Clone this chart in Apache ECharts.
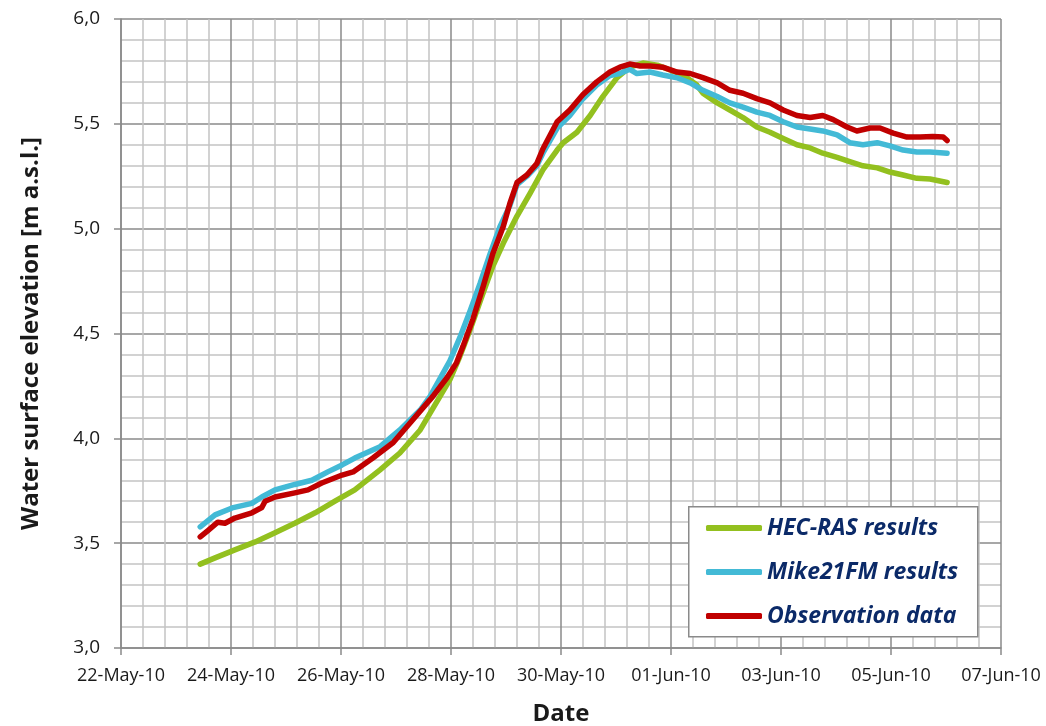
<!DOCTYPE html>
<html>
<head>
<meta charset="utf-8">
<title>Water surface elevation</title>
<script src="https://cdn.jsdelivr.net/npm/echarts@6/dist/echarts.min.js"></script>
<style>
  html, body { margin: 0; padding: 0; background: #ffffff; }
  #chart { width: 1046px; height: 726px; }
</style>
</head>
<body>
<div id="chart"></div>
<script>
// Time is given in days counted from 22-May-2010 00:00.
const dateTickLabels = ['22-May-10', '24-May-10', '26-May-10', '28-May-10', '30-May-10',
                        '01-Jun-10', '03-Jun-10', '05-Jun-10', '07-Jun-10'];

const seriesNames = ['HEC-RAS results', 'Mike21FM results', 'Observation data'];

// HEC-RAS simulated water level [m a.s.l.]
const hecRas = [
  [1.44, 3.40], [1.71, 3.43], [2.07, 3.468], [2.44, 3.506], [2.80, 3.55], [3.16, 3.595],
  [3.53, 3.645], [3.89, 3.70], [4.25, 3.754], [4.71, 3.85], [5.07, 3.93], [5.44, 4.04],
  [5.62, 4.12], [5.80, 4.20], [5.98, 4.28], [6.16, 4.39], [6.35, 4.52], [6.58, 4.69],
  [6.76, 4.82], [6.95, 4.93], [7.20, 5.06], [7.44, 5.17], [7.67, 5.28],
  [7.93, 5.375], [8.04, 5.41], [8.29, 5.46], [8.53, 5.54], [8.76, 5.63], [9.02, 5.72],
  [9.25, 5.77], [9.49, 5.79], [9.75, 5.78], [9.98, 5.757], [10.22, 5.733], [10.47, 5.685],
  [10.58, 5.646], [10.84, 5.60], [11.07, 5.566], [11.31, 5.53], [11.56, 5.485], [11.80, 5.46],
  [12.04, 5.43], [12.29, 5.40], [12.53, 5.385], [12.76, 5.36], [13.02, 5.34], [13.25, 5.32],
  [13.49, 5.30], [13.75, 5.29], [13.98, 5.27], [14.22, 5.256], [14.47, 5.24], [14.71, 5.237],
  [15.02, 5.22]
];

// Mike21FM simulated water level [m a.s.l.]
const mike21fm = [
  [1.44, 3.578], [1.71, 3.635], [2.02, 3.668], [2.38, 3.69], [2.56, 3.72], [2.80, 3.754],
  [3.16, 3.78], [3.47, 3.80], [3.76, 3.84], [4.02, 3.873], [4.25, 3.906], [4.71, 3.96],
  [5.07, 4.04], [5.44, 4.135], [5.62, 4.20], [5.80, 4.285], [5.98, 4.37], [6.16, 4.48],
  [6.35, 4.61], [6.53, 4.74], [6.71, 4.88], [6.89, 5.01], [7.07, 5.11], [7.20, 5.21],
  [7.38, 5.25], [7.56, 5.30], [7.67, 5.36], [7.93, 5.48], [8.16, 5.54], [8.40, 5.62],
  [8.65, 5.685], [8.89, 5.73], [9.07, 5.74], [9.25, 5.76], [9.38, 5.74], [9.62, 5.747],
  [9.85, 5.733], [10.11, 5.72], [10.35, 5.695], [10.58, 5.66], [10.84, 5.63], [11.07, 5.60],
  [11.31, 5.58], [11.56, 5.556], [11.80, 5.54], [12.04, 5.51], [12.29, 5.485], [12.53, 5.475],
  [12.76, 5.466], [13.02, 5.447], [13.25, 5.41], [13.49, 5.40], [13.75, 5.41], [13.98, 5.395],
  [14.22, 5.375], [14.47, 5.366], [14.71, 5.366], [15.02, 5.36]
];

// Observed water level [m a.s.l.]
const observed = [
  [1.44, 3.53], [1.58, 3.56], [1.76, 3.60], [1.89, 3.595], [2.07, 3.62], [2.38, 3.645],
  [2.56, 3.67], [2.62, 3.70], [2.80, 3.72], [3.16, 3.74], [3.40, 3.754], [3.65, 3.787],
  [4.02, 3.825], [4.22, 3.84], [4.58, 3.906], [4.95, 3.98], [5.31, 4.09], [5.67, 4.20],
  [5.93, 4.29], [6.10, 4.36], [6.22, 4.44], [6.40, 4.57], [6.58, 4.72], [6.76, 4.88],
  [6.95, 5.01], [7.07, 5.12], [7.20, 5.22], [7.38, 5.256], [7.56, 5.31], [7.67, 5.38],
  [7.93, 5.51], [8.16, 5.566], [8.40, 5.64], [8.65, 5.70], [8.89, 5.747], [9.07, 5.77],
  [9.25, 5.785], [9.44, 5.776], [9.62, 5.776], [9.85, 5.77], [10.11, 5.747], [10.35, 5.74],
  [10.58, 5.72], [10.84, 5.695], [11.07, 5.66], [11.31, 5.646], [11.56, 5.62], [11.80, 5.60],
  [12.04, 5.566], [12.29, 5.54], [12.53, 5.53], [12.76, 5.54], [12.95, 5.52], [13.20, 5.485],
  [13.38, 5.466], [13.62, 5.48], [13.80, 5.48], [14.04, 5.456], [14.29, 5.437], [14.53, 5.437],
  [14.76, 5.44], [14.95, 5.437], [15.02, 5.42]
];

const seriesColors = ['#93c01f', '#43bad6', '#c00000'];
const FONT = '"Open Sans", "Noto Sans", sans-serif';

const chart = echarts.init(document.getElementById('chart'), null, { renderer: 'canvas' });

const lineSeries = [hecRas, mike21fm, observed].map((data, i) => ({
  name: seriesNames[i],
  type: 'line',
  data: data,
  showSymbol: false,
  symbol: 'none',
  smooth: false,
  z: 2 + i,
  lineStyle: { color: seriesColors[i], width: 5.5, cap: 'round', join: 'round' },
  itemStyle: { color: seriesColors[i] }
}));

chart.setOption({
  animation: false,
  backgroundColor: '#ffffff',
  grid: { left: 121, right: 45, top: 19, bottom: 78, containLabel: false, outerBoundsMode: 'none' },
  xAxis: {
    type: 'value',
    min: 0,
    max: 16,
    interval: 2,
    name: 'Date',
    nameLocation: 'middle',
    nameGap: 54,
    nameTextStyle: { fontFamily: FONT, fontWeight: 'bold', fontSize: 24, color: '#1a1a1a' },
    axisLine: { show: true, lineStyle: { color: '#8a8a8a', width: 1.5 } },
    axisTick: { show: true, inside: false, length: 7, lineStyle: { color: '#8a8a8a', width: 1.5 } },
    axisLabel: {
      fontFamily: FONT, fontSize: 18, color: '#1a1a1a', margin: 19,
      formatter: v => dateTickLabels[Math.round(v / 2)] || ''
    },
    splitLine: { show: true, lineStyle: { color: '#8a8a8a', width: 1.5 } },
    minorTick: { show: false, splitNumber: 5 },
    minorSplitLine: { show: true, lineStyle: { color: '#c3c3c3', width: 1.5 } }
  },
  yAxis: {
    type: 'value',
    min: 3,
    max: 6,
    interval: 0.5,
    name: 'Water surface elevation [m a.s.l.]',
    nameLocation: 'middle',
    nameGap: 78,
    nameTextStyle: { fontFamily: FONT, fontWeight: 'bold', fontSize: 24, color: '#1a1a1a' },
    axisLine: { show: true, lineStyle: { color: '#8a8a8a', width: 1.5 } },
    axisTick: { show: true, inside: false, length: 7, lineStyle: { color: '#8a8a8a', width: 1.5 } },
    axisLabel: {
      fontFamily: FONT, fontSize: 19, color: '#1a1a1a', margin: 21,
      formatter: v => v.toFixed(1).replace('.', ',')
    },
    splitLine: { show: true, lineStyle: { color: '#8a8a8a', width: 1.5 } },
    minorTick: { show: false, splitNumber: 5 },
    minorSplitLine: { show: true, lineStyle: { color: '#c3c3c3', width: 1.5 } }
  },
  graphic: [{
    type: 'rect',
    left: 688, top: 506,
    shape: { width: 289, height: 130 },
    style: { fill: '#ffffff', stroke: '#8a8a8a', lineWidth: 1.5 },
    z: 5
  }],
  legend: {
    data: seriesNames,
    orient: 'vertical',
    left: 688, top: 506,
    padding: [9, 18, 10, 18],
    itemWidth: 56,
    itemHeight: 6,
    itemGap: 18,
    icon: 'roundRect',
    z: 10,
    textStyle: {
      fontFamily: FONT, fontSize: 23, fontStyle: 'italic', fontWeight: 'bold',
      color: '#0b2a68', lineHeight: 26
    },
    selectedMode: false
  },
  series: lineSeries
});
</script>
</body>
</html>
